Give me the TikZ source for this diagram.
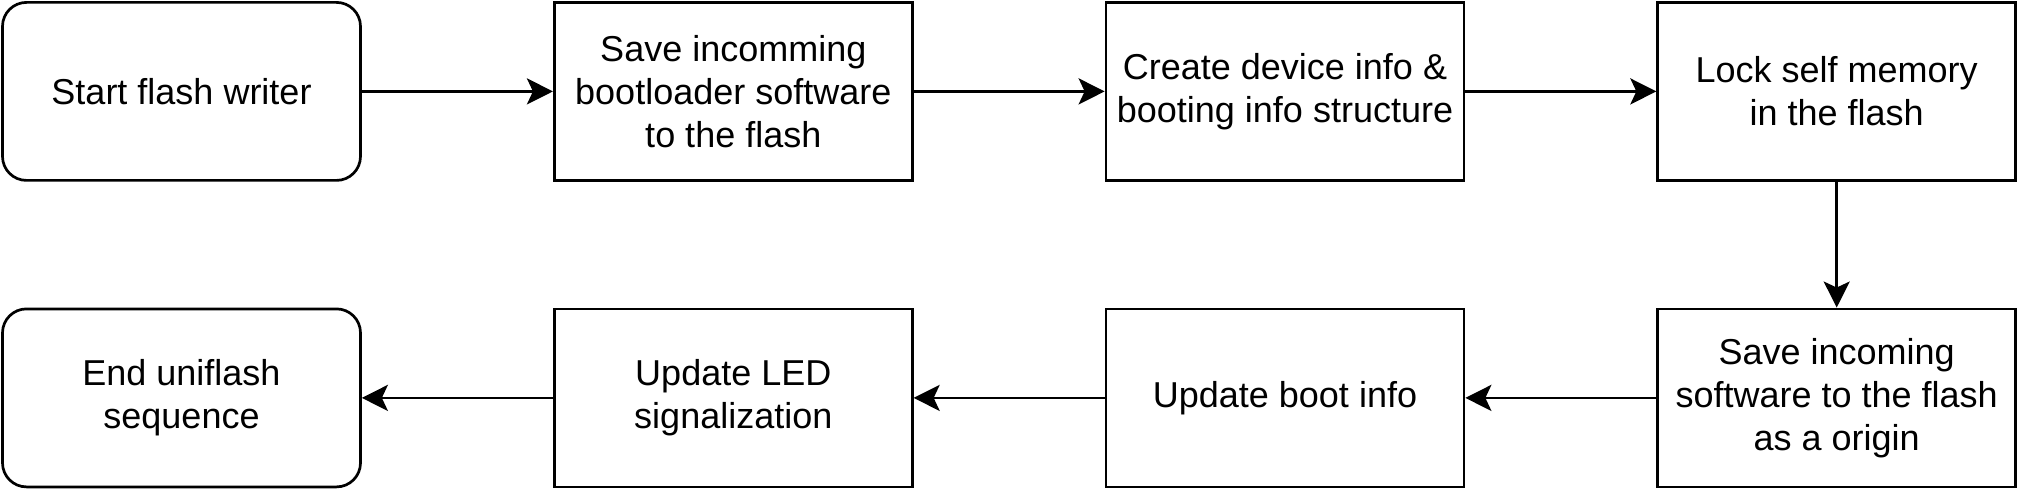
\documentclass[tikz,border=0pt]{standalone}
\usepackage{fontspec}
\setmainfont{Liberation Sans}
\usetikzlibrary{arrows.meta}
\begin{document}
\begin{tikzpicture}[x=1pt,y=-1pt,
  box/.style={draw, line width=2.7pt, minimum width=358pt, minimum height=178pt,
    align=center, inner sep=0pt, font=\fontsize{36}{43.2}\selectfont},
  rbox/.style={box, rounded corners=24pt},
  conn/.style={line width=2.8pt, -{Stealth[length=26pt,width=26pt,inset=6pt]}}]
\useasboundingbox (0,0) rectangle (2019,489);
\node[rbox] (a) at (181.5,91.4) {Start flash writer};
\node[box] (b) at (733.3,91.4) {Save incomming\\bootloader software\\to the flash};
\node[box] (c) at (1285,91.4) {Create device info \&\\booting info structure};
\node[box] (d) at (1836.7,91.4) {Lock self memory\\in the flash};
\node[box] (e) at (1836.7,397.9) {Save incoming\\software to the flash\\as a origin};
\node[box] (f) at (1285,397.9) {Update boot info};
\node[box] (g) at (733.3,397.9) {Update LED\\signalization};
\node[rbox] (h) at (181.5,397.9) {End uniflash\\sequence};
\draw[conn] (a) -- (b);
\draw[conn] (b) -- (c);
\draw[conn] (c) -- (d);
\draw[conn] (d) -- (e);
\draw[conn] (e) -- (f);
\draw[conn] (f) -- (g);
\draw[conn] (g) -- (h);
\end{tikzpicture}
\end{document}
